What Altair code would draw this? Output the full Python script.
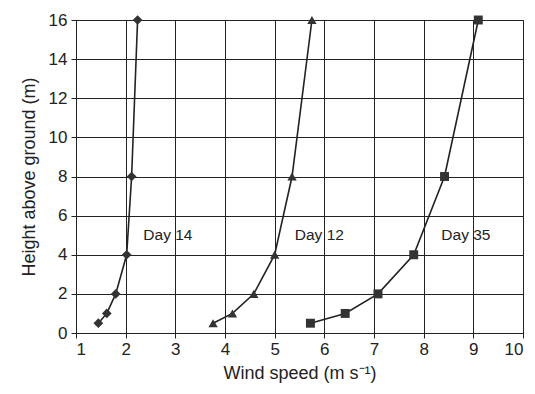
import altair as alt
import pandas as pd

heights = [0.5, 1, 2, 4, 8, 16]
day14 = [1.45, 1.62, 1.8, 2.02, 2.12, 2.24]
day12 = [3.76, 4.15, 4.58, 5.0, 5.35, 5.75]
day35 = [5.72, 6.42, 7.08, 7.8, 8.42, 9.1]

series_names = ["Day 14", "Day 12", "Day 35"]
series_values = [day14, day12, day35]
shapes = ["diamond", "triangle-up", "square"]
marker_sizes = [95, 80, 75]

label_text = ["Day 14", "Day 12", "Day 35"]
label_x = [2.85, 5.9, 8.85]
label_y = [5.0, 5.0, 5.0]

x_ticks = list(range(1, 11))
y_ticks = list(range(0, 17, 2))

rows = []
for name, vals in zip(series_names, series_values):
    for h, v in zip(heights, vals):
        rows.append({"series": name, "wind": v, "height": h})
df = pd.DataFrame(rows)
labels = pd.DataFrame({"text": label_text, "x": label_x, "y": label_y})

FONT = "Liberation Sans"

xscale = alt.Scale(domain=[1, 10], nice=False, zero=False)
yscale = alt.Scale(domain=[0, 16], nice=False)

xaxis = alt.Axis(values=x_ticks, title="Wind speed (m s\u207b\u00b9)",
                 grid=True, gridColor="#222", gridWidth=1, gridOpacity=1,
                 domainColor="#222", tickColor="#222", tickSize=5,
                 labelFontSize=17, labelColor="#222", labelFont=FONT,
                 labelOverlap=False,
                 titleFontSize=18, titleFont=FONT, titleColor="#222",
                 titleFontWeight="normal", labelPadding=3, titlePadding=7)
yaxis = alt.Axis(values=y_ticks, title="Height above ground (m)",
                 grid=True, gridColor="#222", gridWidth=1, gridOpacity=1,
                 domainColor="#222", tickColor="#222", tickSize=5,
                 labelFontSize=17, labelColor="#222", labelFont=FONT,
                 labelOverlap=False,
                 titleFontSize=18, titleFont=FONT, titleColor="#222",
                 titleFontWeight="normal", labelPadding=4, titlePadding=10)

base = alt.Chart(df)
enc_x = alt.X("wind:Q", scale=xscale, axis=xaxis)
enc_y = alt.Y("height:Q", scale=yscale, axis=yaxis)

lines = base.mark_line(color="#222", strokeWidth=1.6).encode(
    x=enc_x, y=enc_y,
    detail="series:N",
    order="height:Q",
)
points = base.mark_point(filled=True, color="#333", opacity=1).encode(
    x=enc_x, y=enc_y,
    shape=alt.Shape("series:N", scale=alt.Scale(domain=series_names, range=shapes), legend=None),
    size=alt.Size("series:N", scale=alt.Scale(domain=series_names, range=marker_sizes), legend=None),
)
text = alt.Chart(labels).mark_text(font=FONT, fontSize=15.5, color="#222").encode(
    x=alt.X("x:Q", scale=xscale, axis=xaxis),
    y=alt.Y("y:Q", scale=yscale, axis=yaxis),
    text="text:N",
)

chart = (lines + points + text).properties(
    width=447, height=313,
    autosize=alt.AutoSizeParams(type="none"),
    padding={"left": 68, "top": 12, "right": 4, "bottom": 50},
).configure_view(stroke="#222", strokeWidth=1)

chart.save("out.html", embed_options={"renderer": "svg", "actions": False})
